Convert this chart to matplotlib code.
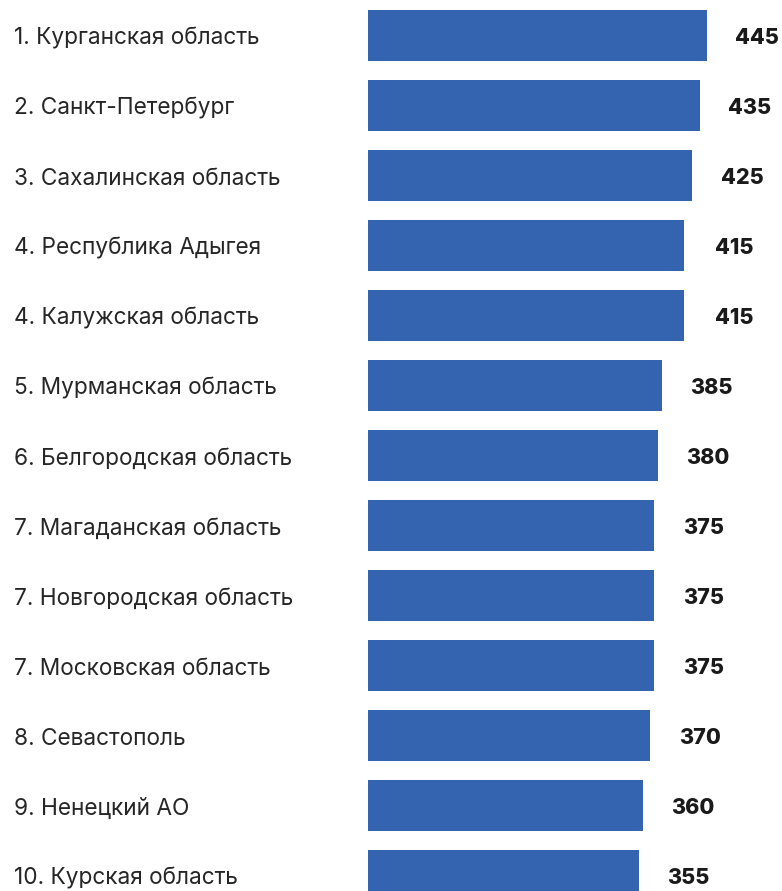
import matplotlib
matplotlib.use("Agg")
import matplotlib.pyplot as plt

plt.rcParams['font.family'] = ['Inter', 'DejaVu Sans']

regions = [
    "1. Курганская область",
    "2. Санкт-Петербург",
    "3. Сахалинская область",
    "4. Республика Адыгея",
    "4. Калужская область",
    "5. Мурманская область",
    "6. Белгородская область",
    "7. Магаданская область",
    "7. Новгородская область",
    "7. Московская область",
    "8. Севастополь",
    "9. Ненецкий АО",
    "10. Курская область",
]
values = [445, 435, 425, 415, 415, 385, 380, 375, 375, 375, 370, 360, 355]

W, H = 782, 891
x0 = 368          # left edge of bars, px
px_per_unit = 0.7625
pitch = 70        # vertical step between bars, px
top = 35          # centre of first bar, px

fig = plt.figure(figsize=(W / 100, H / 100), dpi=100)
ax = fig.add_axes([x0 / W, 0, (W - x0) / W, 1])
ax.set_xlim(0, (W - x0) / px_per_unit)
ax.set_ylim((H - top) / pitch, -top / pitch)
ax.axis('off')

pos = list(range(len(values)))
ax.barh(pos, values, height=51 / pitch, color='#3463AF')

label_x = -(x0 - 14) / px_per_unit
for i, (name, v) in enumerate(zip(regions, values)):
    ax.text(label_x, i + 0.02, name, ha='left', va='center_baseline',
            fontsize=16.3, color='#262626', clip_on=False)
    ax.text(v + 50 / px_per_unit, i + 0.02, str(v), ha='center', va='center_baseline',
            fontsize=15.5, fontweight='heavy', color='#1a1a1a')

fig.savefig('out.png', dpi=100)
